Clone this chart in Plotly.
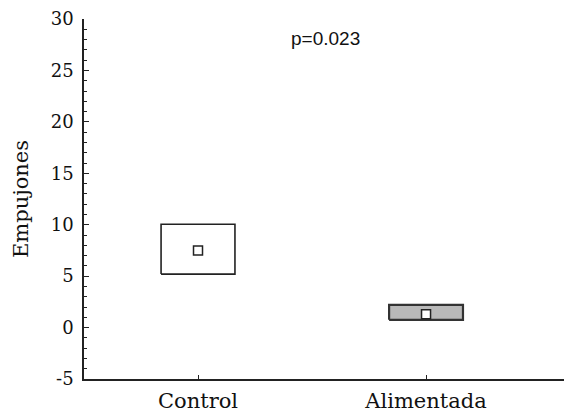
import plotly.graph_objects as go

categories = ["Control", "Alimentada"]
box_low = [5.2, 0.75]
box_high = [10.05, 2.2]
medians = [7.5, 1.3]
box_fill = ["white", "#b9b9b9"]
box_line = ["#222222", "#333333"]
y_tick_vals = [-5, 0, 5, 10, 15, 20, 25, 30]
y_tick_text = ["-5", "0", "5", "10", "15", "20", "25", "30"]
p_text = "p=0.023"

half_w = 0.162
fig = go.Figure()
for i, cat in enumerate(categories):
    x0, x1 = i - half_w, i + half_w
    fig.add_trace(go.Scatter(
        x=[x0, x1, x1, x0, x0],
        y=[box_low[i], box_low[i], box_high[i], box_high[i], box_low[i]],
        mode="lines", fill="toself", fillcolor=box_fill[i],
        line=dict(color=box_line[i], width=1.6 if i == 0 else 2.2),
        showlegend=False, hoverinfo="skip"))
fig.add_trace(go.Scatter(
    x=list(range(len(categories))), y=medians, mode="markers",
    marker=dict(symbol="square", size=9, color="white",
                line=dict(color="#222222", width=1.5)),
    showlegend=False))

fig.add_annotation(x=0.56, y=28.1, xref="x", yref="y", text=p_text,
                   showarrow=False,
                   font=dict(family="Liberation Sans", size=19, color="#111111"))

fig.update_layout(
    width=564, height=418,
    margin=dict(l=84, r=0, t=19, b=39),
    paper_bgcolor="white", plot_bgcolor="white",
    font=dict(family="DejaVu Serif", color="#111111"),
    xaxis=dict(range=[-0.5, 1.605], tickvals=list(range(len(categories))),
               ticktext=categories, ticks="inside", ticklen=4, tickwidth=1.2,
               tickcolor="#222222", showline=True, linecolor="#222222",
               linewidth=1.6, showgrid=False, zeroline=False,
               tickfont=dict(size=21, family="DejaVu Serif"), ticklabelstandoff=2),
    yaxis=dict(range=[-5, 30], tickvals=y_tick_vals, ticktext=y_tick_text,
               ticks="inside", ticklen=5,
               tickwidth=1.2, tickcolor="#222222", showline=True,
               linecolor="#222222", linewidth=1.6, showgrid=False,
               zeroline=False, tickfont=dict(size=18, family="DejaVu Serif"),
               ticklabelstandoff=5,
               minor=dict(dtick=1, ticks="inside", ticklen=3, tickcolor="#222222",
                          showgrid=False),
               title=dict(text="Empujones", font=dict(size=21, family="DejaVu Serif"),
                          standoff=16)),
)
fig.write_html("out.html")
